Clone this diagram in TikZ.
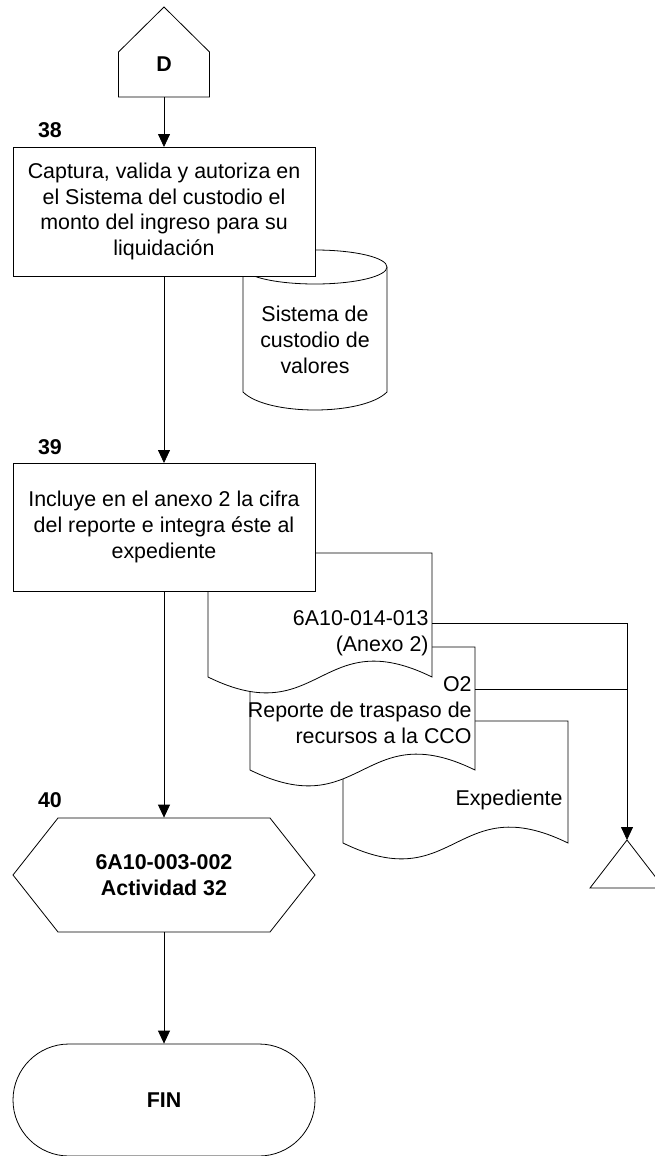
\documentclass[tikz,border=0pt]{standalone}
\usepackage{fontspec}
\setmainfont{Liberation Sans}
\usetikzlibrary{arrows.meta,calc}
\begin{document}
\begin{tikzpicture}[x=1pt,y=-1pt,line width=0.8pt,
  txt/.style={font=\fontsize{21.4}{25.7}\selectfont,inner sep=0pt,align=center},
  btxt/.style={font=\fontsize{21.4}{25.7}\selectfont\bfseries,inner sep=0pt,align=center},
  rtxt/.style={font=\fontsize{21.4}{25.7}\selectfont,inner sep=0pt,align=right,anchor=east},
  ghost/.style={inner sep=0pt,outer sep=0pt},
  arr/.style={-{Triangle[length=13pt,width=12pt]}},
  procbox/.style={txt,draw,fill=white,minimum width=302pt,minimum height=129pt,outer sep=0pt},
  shapeline/.style={draw,fill=white,line join=miter}]
\useasboundingbox (0,0) rectangle (655,1156);

% off-page connector D
\node[ghost,minimum width=91pt,minimum height=90pt] (D) at (164,52) {};
\draw[shapeline] (118.5,97) -- (118.5,52) -- (164,7) -- (209.5,52) -- (209.5,97) -- cycle;
\node[btxt] (Dl) at (164,64) {D};

% cylinder (stored data)
\draw[shapeline] (243,267) -- (243,392) .. controls (267,416) and (363,416) .. (387,392) -- (387,267);
\draw[shapeline] (315,267) ellipse [x radius=72pt,y radius=17pt];
\node[txt] (cyl) at (315,340) {Sistema de\\custodio de\\valores};

% step 38
\node[btxt] (n38) at (50,130) {38};
\node[procbox] (b38) at (164,211.5) {Captura, valida y autoriza en\\el Sistema del custodio el\\monto del ingreso para su\\liquidación};

% documents (back to front)
\draw[shapeline] (343,843) -- (343,721) -- (568,721) -- (568,843) .. controls (455.5,788) and (455.5,898) .. (343,843) -- cycle;
\node[rtxt] (d3t) at (563,800) {Expediente};

\draw[shapeline] (250,770) -- (250,647) -- (475,647) -- (475,770) .. controls (362.5,715) and (362.5,825) .. (250,770) -- cycle;
\node[rtxt] (d2t) at (472,710) {O2\\Reporte de traspaso de\\recursos a la CCO};

\draw[shapeline] (208,677) -- (208,553) -- (432,553) -- (432,677) .. controls (320,622) and (320,732) .. (208,677) -- cycle;
\node[rtxt] (d1t) at (429,633) {6A10-014-013\\(Anexo 2)};

% step 39
\node[btxt] (n39) at (50,447) {39};
\node[procbox,minimum height=128pt] (b39) at (164,527) {Incluye en el anexo 2 la cifra\\del reporte e integra éste al\\expediente};

% archive triangle
\node[ghost,minimum width=74pt,minimum height=48pt] (arch) at (627,864) {};
\draw (627,840) -- (590,888) -- (664,888) -- cycle;
\coordinate (d1e) at (432,623);
\coordinate (d2e) at (475,689);
\coordinate (j1) at (627,623);
\coordinate (j2) at (627,689);
\draw (d1e) -- (j1);
\draw (d2e) -- (j2);
\draw[arr] (j1) -- (arch.north);

% step 40
\node[btxt] (n40) at (50,800) {40};
\node[btxt,minimum width=302pt,minimum height=114pt] (hx) at (164,875) {6A10-003-002\\Actividad 32};
\draw (13,875) -- (58,818) -- (270,818) -- (315,875) -- (270,932) -- (58,932) -- cycle;

% end
\node[btxt,draw,rounded corners=56pt,minimum width=302pt,minimum height=112pt] (fin) at (164,1100) {FIN};

% connectors
\draw[arr] (D.south) -- (b38.north);
\draw[arr] (b38.south) -- (b39.north);
\draw[arr] (b39.south) -- (hx.north);
\draw[arr] (hx.south) -- (fin.north);
\end{tikzpicture}
\end{document}
